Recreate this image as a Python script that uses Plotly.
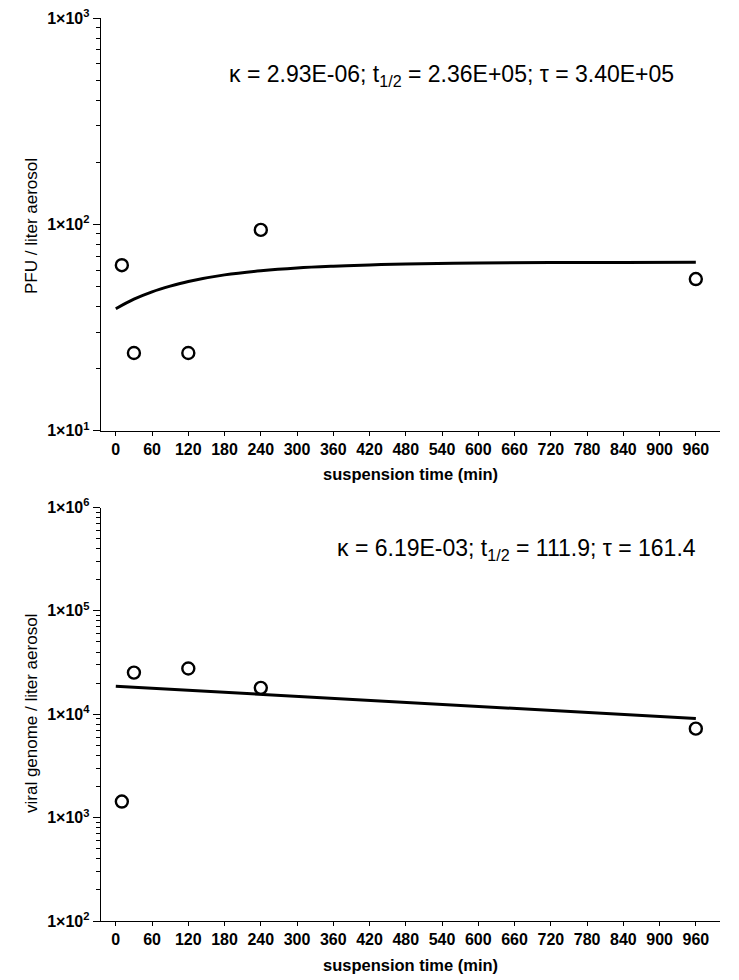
import plotly.graph_objects as go

# ---- data ----
time_min = [10, 30, 120, 240, 960]
pfu_per_liter = [63.4, 23.8, 23.8, 94.0, 54.3]
genome_per_liter = [1430, 25300, 27700, 18000, 7260]

fit_time_pfu = [0, 30, 60, 90, 120, 180, 240, 300, 360, 420, 480, 600, 720, 840, 960]
fit_pfu = [39.0, 43.4, 47.1, 50.2, 52.9, 56.9, 59.6, 61.5, 62.7, 63.6, 64.2, 64.9, 65.3, 65.4, 65.5]

fit_time_genome = [0, 480, 960]
fit_genome = [18660, 13020, 9080]

x_ticks = list(range(0, 961, 60))
top_y_ticks = [10, 100, 1000]
top_y_text = ["1×10<sup>1</sup>", "1×10<sup>2</sup>", "1×10<sup>3</sup>"]
bot_y_ticks = [100, 1000, 10000, 100000, 1000000]
bot_y_text = ["1×10<sup>2</sup>", "1×10<sup>3</sup>", "1×10<sup>4</sup>", "1×10<sup>5</sup>", "1×10<sup>6</sup>"]

top_note = "κ = 2.93E-06; t<sub>1/2</sub> = 2.36E+05; τ = 3.40E+05"
bot_note = "κ = 6.19E-03; t<sub>1/2</sub> = 111.9; τ = 161.4"
x_title = "suspension time (min)"
top_y_title = "PFU / liter aerosol"
bot_y_title = "viral genome / liter aerosol"

FONT = "Arial, Liberation Sans, sans-serif"
# the page body has an 8 px default margin; size the figure to fill the rest of the window
OFF = 8
W, H = 739 - OFF, 980 - OFF


def px(x):
    return (x - OFF) / W


def py(y):
    return 1 - (y - OFF) / H


def minor_vals(lo_exp, hi_exp):
    return [m * 10 ** e for e in range(lo_exp, hi_exp) for m in range(2, 10)]


fig = go.Figure()

marker = dict(symbol="circle-open", size=12, color="black", line=dict(width=2.4, color="black"))
fig.add_trace(go.Scatter(x=fit_time_pfu, y=fit_pfu, mode="lines", line=dict(color="black", width=3, shape="spline"),
                         xaxis="x", yaxis="y", showlegend=False, hoverinfo="skip"))
fig.add_trace(go.Scatter(x=time_min, y=pfu_per_liter, mode="markers", marker=marker,
                         xaxis="x", yaxis="y", showlegend=False))
fig.add_trace(go.Scatter(x=fit_time_genome, y=fit_genome, mode="lines", line=dict(color="black", width=3),
                         xaxis="x2", yaxis="y2", showlegend=False, hoverinfo="skip"))
fig.add_trace(go.Scatter(x=time_min, y=genome_per_liter, mode="markers", marker=marker,
                         xaxis="x2", yaxis="y2", showlegend=False))

xdom = [px(100.7), px(720)]
top_dom = [py(430.7), py(18)]
bot_dom = [py(921), py(507.5)]

xaxis_common = dict(
    range=[-25, 1000], domain=xdom, tickmode="array", tickvals=x_ticks,
    showline=True, linecolor="black", linewidth=1, ticks="outside", ticklen=4, tickwidth=1,
    tickcolor="black", showgrid=False, zeroline=False, automargin=False,
    tickfont=dict(family=FONT, size=16, color="black", weight="bold"),
)
yaxis_common = dict(
    type="log", showline=True, linecolor="black", linewidth=1, ticks="outside", ticklen=7,
    tickwidth=1, tickcolor="black", showgrid=False, zeroline=False, automargin=False,
    ticklabeloverflow="allow",
    tickmode="array", tickfont=dict(family=FONT, size=16, color="black", weight="bold"),
)

fig.update_layout(
    width=W, height=H, margin=dict(l=0, r=0, t=0, b=0),
    paper_bgcolor="white", plot_bgcolor="white",
    xaxis=dict(**xaxis_common, anchor="y"),
    yaxis=dict(**yaxis_common, domain=top_dom, range=[1, 3], tickvals=top_y_ticks, ticktext=top_y_text,
               anchor="x", minor=dict(tickvals=minor_vals(1, 3), ticks="outside", ticklen=4,
                                      tickcolor="black", showgrid=False)),
    xaxis2=dict(**xaxis_common, anchor="y2"),
    yaxis2=dict(**yaxis_common, domain=bot_dom, range=[2, 6], tickvals=bot_y_ticks, ticktext=bot_y_text,
                anchor="x2", minor=dict(tickvals=minor_vals(2, 6), ticks="outside", ticklen=4,
                                        tickcolor="black", showgrid=False)),
    showlegend=False,
)

ann = []
ann.append(dict(text=top_note, x=px(451), y=py(75), xref="paper", yref="paper", showarrow=False,
                font=dict(family=FONT, size=23, color="black"), xanchor="center", yanchor="middle"))
ann.append(dict(text=bot_note, x=px(516), y=py(549), xref="paper", yref="paper", showarrow=False,
                font=dict(family=FONT, size=23, color="black"), xanchor="center", yanchor="middle"))
for yc in (474, 965):
    ann.append(dict(text=x_title, x=px(410), y=py(yc), xref="paper", yref="paper", showarrow=False,
                    font=dict(family=FONT, size=16.5, color="black", weight="bold"),
                    xanchor="center", yanchor="middle"))
ann.append(dict(text=top_y_title, x=px(31), y=py(226), xref="paper", yref="paper", showarrow=False,
                textangle=-90, font=dict(family=FONT, size=17, color="black"),
                xanchor="center", yanchor="middle"))
ann.append(dict(text=bot_y_title, x=px(31), y=py(714), xref="paper", yref="paper", showarrow=False,
                textangle=-90, font=dict(family=FONT, size=17, color="black"),
                xanchor="center", yanchor="middle"))
fig.update_layout(annotations=ann)

fig.write_html("out.html")
